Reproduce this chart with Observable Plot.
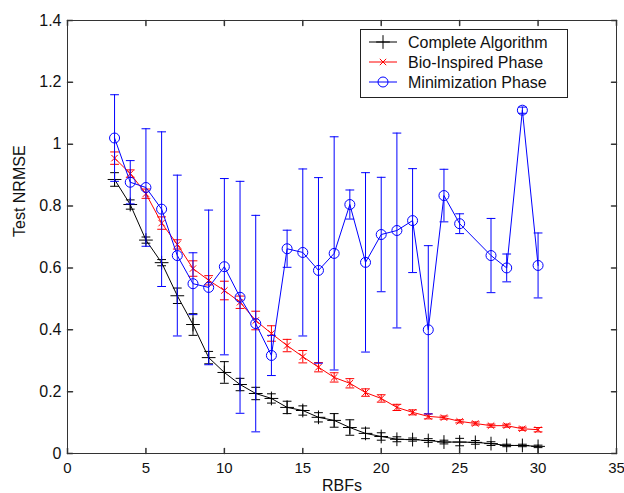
<!DOCTYPE html>
<html><head><meta charset="utf-8">
<script src="https://cdn.jsdelivr.net/npm/d3@7"></script>
<script src="https://cdn.jsdelivr.net/npm/@observablehq/plot@0.6"></script>
<style>
body{margin:0;background:#fff;}
#wrap{position:relative;width:624px;height:493px;overflow:hidden;font-family:"Liberation Sans",Arial,sans-serif;}
#legend{position:absolute;left:360px;top:29px;}
</style></head><body><div id="wrap"></div>
<script>
const rbfs = [3,4,5,6,7,8,9,10,11,12,13,14,15,16,17,18,19,20,21,22,23,24,25,26,27,28,29,30];
const completeMean = [0.886,0.805,0.690,0.617,0.510,0.417,0.310,0.262,0.223,0.194,0.178,0.149,0.139,0.117,0.107,0.084,0.065,0.055,0.046,0.045,0.042,0.037,0.037,0.036,0.032,0.026,0.026,0.023];
const completeErr  = [0.022,0.015,0.010,0.010,0.025,0.035,0.020,0.035,0.020,0.020,0.015,0.020,0.015,0.015,0.022,0.025,0.017,0.012,0.008,0.005,0.006,0.006,0.012,0.006,0.006,0.004,0.004,0.004];
const bioMean = [0.955,0.905,0.840,0.745,0.676,0.598,0.560,0.527,0.489,0.430,0.388,0.349,0.313,0.279,0.246,0.227,0.197,0.178,0.149,0.133,0.120,0.116,0.104,0.097,0.090,0.090,0.080,0.077];
const bioErr  = [0.020,0.012,0.015,0.020,0.015,0.025,0.015,0.030,0.020,0.030,0.025,0.020,0.020,0.015,0.015,0.015,0.012,0.012,0.010,0.008,0.008,0.005,0.005,0.005,0.005,0.005,0.005,0.007];
const minMean = [1.020,0.877,0.860,0.790,0.640,0.549,0.537,0.604,0.505,0.420,0.317,0.662,0.650,0.592,0.647,0.805,0.618,0.708,0.721,0.753,0.400,0.834,0.743,null,0.640,0.600,1.110,0.608];
const minErr  = [0.140,0.070,0.190,0.250,0.260,0.100,0.250,0.285,0.375,0.350,0.065,0.060,0.270,0.300,0.377,0.047,0.290,0.185,0.315,0.168,0.272,0.085,0.032,null,0.120,0.045,0.010,0.105];
const xTicks = [0,5,10,15,20,25,30,35];
const yTicks = [0,0.2,0.4,0.6,0.8,1,1.2,1.4];

const series = [
  {name:"Complete Algorithm", color:"#000000", mean:completeMean, err:completeErr, symbol:"plus", r:4.5},
  {name:"Bio-Inspired Phase", color:"#ff0000", mean:bioMean, err:bioErr, symbol:"times", r:3},
  {name:"Minimization Phase", color:"#0000ff", mean:minMean, err:minErr, symbol:"circle", r:5}
];
function rowsOf(s){
  return rbfs.map((x,i)=>({x, y:s.mean[i], e:s.err[i]}))
    .filter(d=>d.y!=null)
    .map(d=>({x:d.x, y:d.y, lo:d.y-d.e, hi:d.y+d.e}));
}
const lineShape = {draw(ctx, l){ ctx.moveTo(0,0); ctx.lineTo(0,-l); }};

const marks = [];
for (const s of series) {
  const rows = rowsOf(s);
  marks.push(Plot.ruleX(rows, {x:"x", y1:"lo", y2:"hi", stroke:s.color, strokeWidth:1}));
  marks.push(Plot.vector(rows, {x:"x", y:"lo", rotate:90, length:8, anchor:"middle", shape:lineShape, stroke:s.color, strokeWidth:1}));
  marks.push(Plot.vector(rows, {x:"x", y:"hi", rotate:90, length:8, anchor:"middle", shape:lineShape, stroke:s.color, strokeWidth:1}));
  marks.push(Plot.line(rows, {x:"x", y:"y", stroke:s.color, strokeWidth:1}));
  marks.push(Plot.dot(rows, {x:"x", y:"y", symbol:s.symbol, r:s.r, stroke:s.color, fill:"none", strokeWidth:1}));
}
const tickColor = "#333";
marks.push(
  Plot.vector(xTicks, {x:d=>d, frameAnchor:"bottom", rotate:0, length:5, anchor:"start", shape:lineShape, stroke:tickColor}),
  Plot.vector(xTicks, {x:d=>d, frameAnchor:"top", rotate:180, length:5, anchor:"start", shape:lineShape, stroke:tickColor}),
  Plot.vector(yTicks, {y:d=>d, frameAnchor:"left", rotate:90, length:5, anchor:"start", shape:lineShape, stroke:tickColor}),
  Plot.vector(yTicks, {y:d=>d, frameAnchor:"right", rotate:-90, length:5, anchor:"start", shape:lineShape, stroke:tickColor}),
  Plot.frame({stroke:tickColor, strokeWidth:1}),
  Plot.axisX(xTicks, {tickSize:0, tickPadding:9, tickFormat:d=>String(d), label:null, fill:"#111", fontSize:15}),
  Plot.axisY(yTicks, {tickSize:0, tickPadding:6, tickFormat:d=>String(d), label:null, fill:"#111"}),
  Plot.text(["RBFs"], {text:d=>d, frameAnchor:"bottom", dy:37, fill:"#111"}),
  Plot.text(["Test NRMSE"], {text:d=>d, frameAnchor:"left", dx:-48, rotate:-90, fill:"#111"})
);

const chart = Plot.plot({
  width:624, height:493,
  marginLeft:67, marginRight:8, marginTop:20, marginBottom:40,
  x:{domain:[0,35]},
  y:{domain:[0,1.4]},
  style:{fontSize:"16px", fontFamily:"'Liberation Sans', Arial, sans-serif", background:"#fff"},
  marks
});
const wrap = document.getElementById("wrap");
wrap.appendChild(chart);

// legend
const lw = 207, lh = 68;
const leg = d3.create("svg").attr("id","legend").attr("width",lw+1).attr("height",lh+1)
  .style("font-family","'Liberation Sans', Arial, sans-serif").style("font-size","16px");
leg.append("rect").attr("x",0.5).attr("y",0.5).attr("width",lw).attr("height",lh)
  .attr("fill","#fff").attr("stroke","#222");
series.forEach((s,i)=>{
  const cy = 13 + i*20;
  const g = leg.append("g").attr("stroke",s.color).attr("fill","none");
  g.append("line").attr("x1",9).attr("x2",37).attr("y1",cy).attr("y2",cy);
  const sym = s.symbol==="plus" ? d3.symbolPlus : s.symbol==="times" ? d3.symbolTimes : d3.symbolCircle;
  const size = s.symbol==="circle" ? Math.PI*25 : s.symbol==="plus" ? Math.PI*20 : Math.PI*9;
  g.append("path").attr("d", d3.symbol(sym, size)()).attr("transform",`translate(23,${cy})`);
  leg.append("text").attr("x",48).attr("y",cy).attr("dy","0.35em").attr("fill","#111").text(s.name);
});
wrap.appendChild(leg.node());
</script></body></html>
